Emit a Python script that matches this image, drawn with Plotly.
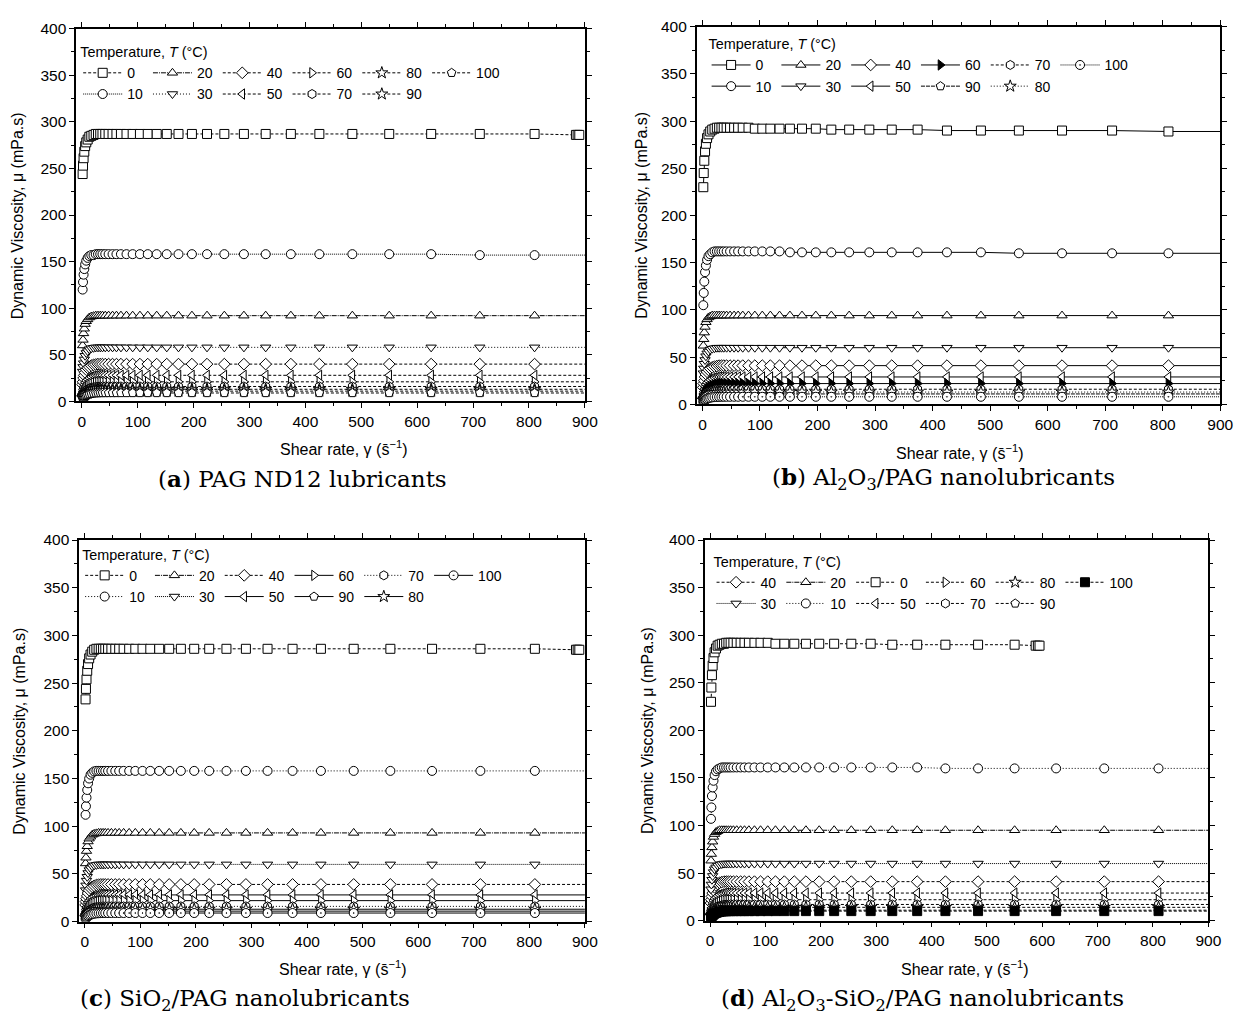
import plotly.graph_objects as go

# ---------------- data ----------------
SHEAR_RATE = [1.5, 2.2, 3.2, 4.5, 6, 8, 10.5, 13.5, 17, 21, 25, 29,
              33, 37, 42, 48, 55, 62, 70, 80, 91,
              104, 118, 134, 152, 173, 197, 224, 255, 290,
              329, 374, 425, 484, 550, 625, 712, 810, 920]
# 0 degC runs of panels (a) and (c) stop near 890 1/s
SHEAR_RATE_0C_LONG = [1.5, 2.2, 3.2, 4.5, 6, 8, 10.5, 13.5, 17, 21, 25, 29,
                      33, 37, 42, 48, 55, 62, 70, 80, 91,
                      104, 118, 134, 152, 173, 197, 224, 255, 290,
                      329, 374, 425, 484, 550, 625, 712, 810, 884, 887, 890]
# 0 degC run of panel (d) stops near 595 1/s
SHEAR_RATE_0C_SHORT = [1.5, 2.2, 3.2, 4.5, 6, 8, 10.5, 13.5, 17, 21, 25, 29,
                       33, 37, 42, 48, 55, 62, 70, 80, 91,
                       104, 118, 134, 152, 173, 197, 224, 255, 290,
                       329, 374, 425, 484, 550, 588, 592, 595]

# (a) PAG ND12
A_T0 = [244, 253, 261, 268, 274, 278, 281, 284, 285, 286, 287, 287,
        287, 287, 287, 287, 287, 287, 287, 287, 287,
        287, 287, 287, 287, 287, 287, 287, 287, 287,
        287, 287, 287, 287, 287, 287, 287, 287, 286, 286, 286]
A_T10 = [120, 128, 136, 142, 147, 151, 154, 156, 157, 157, 158, 158,
         158, 158, 158, 158, 158, 158, 158, 158, 158,
         158, 158, 158, 158, 158, 158, 158, 158, 158,
         158, 158, 158, 158, 158, 158, 157, 157, 157]
A_T20 = [60, 66, 73, 78, 83, 86, 88, 90, 91, 91.5, 92, 92,
         92, 92, 92, 92, 92, 92, 92, 92, 92,
         92, 92, 92, 92, 92, 92, 92, 92, 92,
         92, 92, 92, 92, 92, 92, 92, 92, 92]
A_T30 = [32, 37, 41, 45, 49, 52, 54, 56, 57, 57.5, 58, 58,
         58, 58, 58, 58, 58, 58, 58, 58, 58,
         58, 58, 58, 58, 58, 58, 58, 58, 58,
         58, 58, 58, 58, 58, 58, 58, 58, 58]
A_T40 = [18, 21, 25, 28, 31, 34, 36, 37, 38.4, 39.2, 39.6, 40,
         40, 40, 40, 40, 40, 40, 40, 40, 40,
         40, 40, 40, 40, 40, 40, 40, 40, 40,
         40, 40, 40, 40, 40, 40, 40, 40, 40]
A_T50 = [10.6, 12.9, 15.4, 17.9, 20.2, 22.1, 23.8, 25.2, 26.3, 27.2, 27.6, 27.9,
         28, 28, 28, 28, 28, 28, 28, 28, 28,
         28, 28, 28, 28, 28, 28, 28, 28, 28,
         28, 28, 28, 28, 28, 28, 28, 28, 28]
A_T60 = [6.7, 8.4, 10.3, 12.2, 13.9, 15.5, 17, 18.3, 19.3, 20.1, 20.5, 20.8,
         21, 21, 21, 21, 21, 21, 21, 21, 21,
         21, 21, 21, 21, 21, 21, 21, 21, 21,
         21, 21, 21, 21, 21, 21, 21, 21, 21]
A_T70 = [5.1, 6.4, 7.8, 9.3, 10.6, 11.8, 13, 13.9, 14.7, 15.3, 15.6, 15.8,
         16, 16, 16, 16, 16, 16, 16, 16, 16,
         16, 16, 16, 16, 16, 16, 16, 16, 16,
         16, 16, 16, 16, 16, 16, 16, 16, 16]
A_T80 = [4.2, 5.2, 6.4, 7.5, 8.6, 9.6, 10.5, 11.3, 12, 12.4, 12.7, 12.9,
         13, 13, 13, 13, 13, 13, 13, 13, 13,
         13, 13, 13, 13, 13, 13, 13, 13, 13,
         13, 13, 13, 13, 13, 13, 13, 13, 13]
A_T90 = [3.5, 4.4, 5.4, 6.4, 7.3, 8.1, 8.9, 9.6, 10.1, 10.5, 10.7, 10.9,
         11, 11, 11, 11, 11, 11, 11, 11, 11,
         11, 11, 11, 11, 11, 11, 11, 11, 11,
         11, 11, 11, 11, 11, 11, 11, 11, 11]
A_T100 = [2.9, 3.6, 4.4, 5.2, 5.9, 6.7, 7.3, 7.8, 8.3, 8.6, 8.8, 8.9,
          9, 9, 9, 9, 9, 9, 9, 9, 9,
          9, 9, 9, 9, 9, 9, 9, 9, 9,
          9, 9, 9, 9, 9, 9, 9, 9, 9]

# (b) Al2O3/PAG
B_T0 = [230, 245, 258, 268, 276, 282, 286, 289, 291, 292, 293, 293,
        293, 293, 293, 293, 293, 293, 293, 293, 292,
        292, 292, 292, 292, 292, 292, 291, 291, 291,
        291, 291, 290, 290, 290, 290, 290, 289, 289]
B_T10 = [105, 118, 130, 140, 147, 153, 157, 159, 161, 162, 162, 162,
         162, 162, 162, 162, 162, 162, 162, 162, 162,
         162, 162, 162, 161, 161, 161, 161, 161, 161,
         161, 161, 161, 161, 160, 160, 160, 160, 160]
B_T20 = [62, 69, 76, 82, 87, 90, 92, 93, 94, 94, 94, 94,
         94, 94, 94, 94, 94, 94, 94, 94, 94,
         94, 94, 94, 94, 94, 94, 94, 94, 94,
         94, 94, 94, 94, 94, 94, 94, 94, 94]
B_T30 = [33, 38, 43, 47, 51, 54, 56, 58, 59, 59.5, 60, 60,
         60, 60, 60, 60, 60, 60, 60, 60, 60,
         60, 60, 60, 60, 60, 60, 60, 60, 60,
         60, 60, 60, 60, 60, 60, 60, 60, 60]
B_T40 = [18, 22, 25, 29, 32, 34.5, 36.5, 38, 39.2, 40, 40.5, 41,
         41, 41, 41, 41, 41, 41, 41, 41, 41,
         41, 41, 41, 41, 41, 41, 41, 41, 41,
         41, 41, 41, 41, 41, 41, 41, 41, 41]
B_T50 = [11, 13.3, 16, 18.6, 21, 23, 24.7, 26.1, 27.3, 28.1, 28.6, 29,
         29, 29, 29, 29, 29, 29, 29, 29, 29,
         29, 29, 29, 29, 29, 29, 29, 29, 29,
         29, 29, 29, 29, 29, 29, 29, 29, 29]
B_T60 = [7, 8.8, 10.8, 12.8, 14.5, 16.3, 17.8, 19.1, 20.2, 21, 21.5, 21.8,
         22, 22, 22, 22, 22, 22, 22, 22, 22,
         22, 22, 22, 22, 22, 22, 22, 22, 22,
         22, 22, 22, 22, 22, 22, 22, 22, 22]
B_T70 = [5.1, 6.4, 7.8, 9.3, 10.6, 11.8, 13, 13.9, 14.7, 15.3, 15.6, 15.8,
         16, 16, 16, 16, 16, 16, 16, 16, 16,
         16, 16, 16, 16, 16, 16, 16, 16, 16,
         16, 16, 16, 16, 16, 16, 16, 16, 16]
B_T80 = [4.2, 5.2, 6.4, 7.5, 8.6, 9.6, 10.5, 11.3, 12, 12.4, 12.7, 12.9,
         13, 13, 13, 13, 13, 13, 13, 13, 13,
         13, 13, 13, 13, 13, 13, 13, 13, 13,
         13, 13, 13, 13, 13, 13, 13, 13, 13]
B_T90 = [3.5, 4.4, 5.4, 6.4, 7.3, 8.1, 8.9, 9.6, 10.1, 10.5, 10.7, 10.9,
         11, 11, 11, 11, 11, 11, 11, 11, 11,
         11, 11, 11, 11, 11, 11, 11, 11, 11,
         11, 11, 11, 11, 11, 11, 11, 11, 11]
B_T100 = [2.6, 3.2, 3.9, 4.6, 5.3, 5.9, 6.5, 7, 7.4, 7.7, 7.8, 7.9,
          8, 8, 8, 8, 8, 8, 8, 8, 8,
          8, 8, 8, 8, 8, 8, 8, 8, 8,
          8, 8, 8, 8, 8, 8, 8, 8, 8]

# (c) SiO2/PAG
C_T0 = [233, 244, 254, 263, 270, 276, 280, 283, 285, 286, 286, 286,
        286, 286, 286, 286, 286, 286, 286, 286, 286,
        286, 286, 286, 286, 286, 286, 286, 286, 286,
        286, 286, 286, 286, 286, 286, 286, 286, 285, 285, 285]
C_T10 = [112, 121, 130, 138, 145, 150, 154, 156, 157.5, 158, 158, 158,
         158, 158, 158, 158, 158, 158, 158, 158, 158,
         158, 158, 158, 158, 158, 158, 158, 158, 158,
         158, 158, 158, 158, 158, 158, 158, 158, 158]
C_T20 = [61, 67, 74, 79, 84, 87, 89, 91, 92, 92.5, 93, 93,
         93, 93, 93, 93, 93, 93, 93, 93, 93,
         93, 93, 93, 93, 93, 93, 93, 93, 93,
         93, 93, 93, 93, 93, 93, 93, 93, 93]
C_T30 = [33, 38, 43, 47, 51, 54, 56, 58, 59, 59.5, 60, 60,
         60, 60, 60, 60, 60, 60, 60, 60, 60,
         60, 60, 60, 60, 60, 60, 60, 60, 60,
         60, 60, 60, 60, 60, 60, 60, 60, 60]
C_T40 = [17.5, 21, 24, 27, 30, 33, 35, 36.5, 37.5, 38.4, 38.8, 39,
         39, 39, 39, 39, 39, 39, 39, 39, 39,
         39, 39, 39, 39, 39, 39, 39, 39, 39,
         39, 39, 39, 39, 39, 39, 39, 39, 39]
C_T50 = [10.6, 12.9, 15.4, 17.9, 20.2, 22.1, 23.8, 25.2, 26.3, 27.2, 27.6, 27.9,
         28, 28, 28, 28, 28, 28, 28, 28, 28,
         28, 28, 28, 28, 28, 28, 28, 28, 28,
         28, 28, 28, 28, 28, 28, 28, 28, 28]
C_T60 = [7, 8.8, 10.8, 12.8, 14.5, 16.3, 17.8, 19.1, 20.2, 21, 21.5, 21.8,
         22, 22, 22, 22, 22, 22, 22, 22, 22,
         22, 22, 22, 22, 22, 22, 22, 22, 22,
         22, 22, 22, 22, 22, 22, 22, 22, 22]
C_T70 = [5.1, 6.4, 7.8, 9.3, 10.6, 11.8, 13, 13.9, 14.7, 15.3, 15.6, 15.8,
         16, 16, 16, 16, 16, 16, 16, 16, 16,
         16, 16, 16, 16, 16, 16, 16, 16, 16,
         16, 16, 16, 16, 16, 16, 16, 16, 16]
C_T80 = [4.2, 5.2, 6.4, 7.5, 8.6, 9.6, 10.5, 11.3, 12, 12.4, 12.7, 12.9,
         13, 13, 13, 13, 13, 13, 13, 13, 13,
         13, 13, 13, 13, 13, 13, 13, 13, 13,
         13, 13, 13, 13, 13, 13, 13, 13, 13]
C_T90 = [3.5, 4.4, 5.4, 6.4, 7.3, 8.1, 8.9, 9.6, 10.1, 10.5, 10.7, 10.9,
         11, 11, 11, 11, 11, 11, 11, 11, 11,
         11, 11, 11, 11, 11, 11, 11, 11, 11,
         11, 11, 11, 11, 11, 11, 11, 11, 11]
C_T100 = [2.9, 3.6, 4.4, 5.2, 5.9, 6.7, 7.3, 7.8, 8.3, 8.6, 8.8, 8.9,
          9, 9, 9, 9, 9, 9, 9, 9, 9,
          9, 9, 9, 9, 9, 9, 9, 9, 9,
          9, 9, 9, 9, 9, 9, 9, 9, 9]

# (d) Al2O3-SiO2/PAG
D_T0 = [230, 245, 258, 268, 276, 282, 286, 289, 290, 291, 291, 292,
        292, 292, 292, 292, 292, 292, 292, 292, 292,
        292, 291, 291, 291, 291, 291, 291, 291, 291,
        290, 290, 290, 290, 290, 289, 289, 289]
D_T10 = [107, 119, 131, 140, 147, 153, 157, 159, 160, 161, 161, 161,
         161, 161, 161, 161, 161, 161, 161, 161, 161,
         161, 161, 161, 161, 161, 161, 161, 161, 161,
         161, 161, 160, 160, 160, 160, 160, 160, 160]
D_T20 = [63, 70, 77, 83, 88, 91, 93, 94, 95, 95, 95, 95,
         95, 95, 95, 95, 95, 95, 95, 95, 95,
         95, 95, 95, 95, 95, 95, 95, 95, 95,
         95, 95, 95, 95, 95, 95, 95, 95, 95]
D_T30 = [33, 38, 43, 47, 51, 54, 56, 58, 59, 59.5, 60, 60,
         60, 60, 60, 60, 60, 60, 60, 60, 60,
         60, 60, 60, 60, 60, 60, 60, 60, 60,
         60, 60, 60, 60, 60, 60, 60, 60, 60]
D_T40 = [18.5, 22, 25.5, 29, 32, 35, 37, 38.5, 39.8, 40.5, 41, 41,
         41, 41, 41, 41, 41, 41, 41, 41, 41,
         41, 41, 41, 41, 41, 41, 41, 41, 41,
         41, 41, 41, 41, 41, 41, 41, 41, 41]
D_T50 = [11, 13.3, 16, 18.6, 21, 23, 24.7, 26.1, 27.3, 28.1, 28.6, 29,
         29, 29, 29, 29, 29, 29, 29, 29, 29,
         29, 29, 29, 29, 29, 29, 29, 29, 29,
         29, 29, 29, 29, 29, 29, 29, 29, 29]
D_T60 = [7, 8.8, 10.8, 12.8, 14.5, 16.3, 17.8, 19.1, 20.2, 21, 21.5, 21.8,
         22, 22, 22, 22, 22, 22, 22, 22, 22,
         22, 22, 22, 22, 22, 22, 22, 22, 22,
         22, 22, 22, 22, 22, 22, 22, 22, 22]
D_T70 = [5.4, 6.8, 8.3, 9.8, 11.2, 12.5, 13.8, 14.8, 15.6, 16.2, 16.6, 16.8,
         17, 17, 17, 17, 17, 17, 17, 17, 17,
         17, 17, 17, 17, 17, 17, 17, 17, 17,
         17, 17, 17, 17, 17, 17, 17, 17, 17]
D_T80 = [4.5, 5.6, 6.9, 8.1, 9.2, 10.4, 11.3, 12.2, 12.9, 13.4, 13.7, 13.9,
         14, 14, 14, 14, 14, 14, 14, 14, 14,
         14, 14, 14, 14, 14, 14, 14, 14, 14,
         14, 14, 14, 14, 14, 14, 14, 14, 14]
D_T90 = [3.5, 4.4, 5.4, 6.4, 7.3, 8.1, 8.9, 9.6, 10.1, 10.5, 10.7, 10.9,
         11, 11, 11, 11, 11, 11, 11, 11, 11,
         11, 11, 11, 11, 11, 11, 11, 11, 11,
         11, 11, 11, 11, 11, 11, 11, 11, 11]
D_T100 = [3.2, 4, 4.9, 5.8, 6.6, 7.4, 8.1, 8.7, 9.2, 9.6, 9.8, 9.9,
          10, 10, 10, 10, 10, 10, 10, 10, 10,
          10, 10, 10, 10, 10, 10, 10, 10, 10,
          10, 10, 10, 10, 10, 10, 10, 10, 10]

CAPTIONS = ["(<b>a</b>) PAG ND12 lubricants",
            "(<b>b</b>) Al<sub>2</sub>O<sub>3</sub>/PAG nanolubricants",
            "(<b>c</b>) SiO<sub>2</sub>/PAG nanolubricants",
            "(<b>d</b>) Al<sub>2</sub>O<sub>3</sub>-SiO<sub>2</sub>/PAG nanolubricants"]
X_TITLE = "Shear rate, γ (s\u0304<sup>−1</sup>)"
Y_TITLE = "Dynamic Viscosity, μ (mPa.s)"
LEGEND_TITLE = "Temperature, <i>T</i> (°C)"

# ---------------- styles ----------------
W, H = 1255, 1026
SD = "3px,2px"      # short dash
DT = "1px,2px"      # dot
DD = "1px,1px"      # dense dot
DDH = "5px,1px,1px,1px"  # dash-dot
SANS = "Arial, Liberation Sans, sans-serif"

SYM = {0: "square", 10: "circle", 20: "triangle-up", 30: "triangle-down",
       40: "diamond", 50: "triangle-left", 60: "triangle-right",
       70: "hexagon", 80: "star", 90: "pentagon", 100: "circle-dot"}

panels = [
    dict(xa="x", ya="y", leg="legend",
         data={0: (SHEAR_RATE_0C_LONG, A_T0), 10: (SHEAR_RATE, A_T10), 20: (SHEAR_RATE, A_T20),
               30: (SHEAR_RATE, A_T30), 40: (SHEAR_RATE, A_T40), 50: (SHEAR_RATE, A_T50),
               60: (SHEAR_RATE, A_T60), 70: (SHEAR_RATE, A_T70), 80: (SHEAR_RATE, A_T80),
               90: (SHEAR_RATE, A_T90), 100: (SHEAR_RATE, A_T100)},
         dash={0: SD, 10: DD, 20: DDH, 30: DT, 40: SD, 50: SD, 60: SD, 70: SD, 80: SD, 90: SD, 100: SD},
         sym={90: "star", 100: "pentagon"}, fill={},
         cols=[(0, 10), (20, 30), (40, 50), (60, 70), (80, 90), (100,)],
         xdom=(77, 591), ydom=(20, 399)),
    dict(xa="x2", ya="y2", leg="legend2",
         data={0: (SHEAR_RATE, B_T0), 10: (SHEAR_RATE, B_T10), 20: (SHEAR_RATE, B_T20),
               30: (SHEAR_RATE, B_T30), 40: (SHEAR_RATE, B_T40), 50: (SHEAR_RATE, B_T50),
               60: (SHEAR_RATE, B_T60), 70: (SHEAR_RATE, B_T70), 80: (SHEAR_RATE, B_T80),
               90: (SHEAR_RATE, B_T90), 100: (SHEAR_RATE, B_T100)},
         dash={0: "solid", 10: "solid", 20: "solid", 30: "solid", 40: "solid", 50: "solid",
               60: "solid", 70: SD, 80: DT, 90: "4px,1px", 100: DD},
         sym={}, fill={60: "black"},
         cols=[(0, 10), (20, 30), (40, 50), (60, 90), (70, 80), (100,)],
         xdom=(704, 1233), ydom=(18, 402)),
    dict(xa="x3", ya="y3", leg="legend3",
         data={0: (SHEAR_RATE_0C_LONG, C_T0), 10: (SHEAR_RATE, C_T10), 20: (SHEAR_RATE, C_T20),
               30: (SHEAR_RATE, C_T30), 40: (SHEAR_RATE, C_T40), 50: (SHEAR_RATE, C_T50),
               60: (SHEAR_RATE, C_T60), 70: (SHEAR_RATE, C_T70), 80: (SHEAR_RATE, C_T80),
               90: (SHEAR_RATE, C_T90), 100: (SHEAR_RATE, C_T100)},
         dash={0: SD, 10: DT, 20: DDH, 30: DD, 40: SD, 50: "solid", 60: "solid",
               70: DT, 80: "solid", 90: "solid", 100: "solid"},
         sym={}, fill={},
         cols=[(0, 10), (20, 30), (40, 50), (60, 90), (70, 80), (100,)],
         xdom=(80, 591), ydom=(540, 928)),
    dict(xa="x4", ya="y4", leg="legend4",
         data={0: (SHEAR_RATE_0C_SHORT, D_T0), 10: (SHEAR_RATE, D_T10), 20: (SHEAR_RATE, D_T20),
               30: (SHEAR_RATE, D_T30), 40: (SHEAR_RATE, D_T40), 50: (SHEAR_RATE, D_T50),
               60: (SHEAR_RATE, D_T60), 70: (SHEAR_RATE, D_T70), 80: (SHEAR_RATE, D_T80),
               90: (SHEAR_RATE, D_T90), 100: (SHEAR_RATE, D_T100)},
         dash={0: SD, 10: DT, 20: DDH, 30: DD, 40: SD, 50: SD, 60: SD, 70: SD, 80: SD,
               90: SD, 100: SD},
         sym={100: "square"}, fill={100: "black"},
         cols=[(40, 30), (20, 10), (0, 50), (60, 70), (80, 90), (100,)],
         xdom=(712, 1221), ydom=(540, 927)),
]

fig = go.Figure()
for pi, p in enumerate(panels):
    for ci, col in enumerate(p["cols"]):
        for t in col:
            xs, ys = p["data"][t]
            fig.add_trace(go.Scatter(
                x=xs, y=ys, mode="lines+markers", name=str(t),
                xaxis=p["xa"], yaxis=p["ya"], legend=p["leg"],
                legendgroup=f"p{pi}c{ci}",
                line=dict(color="black", width=1, dash=p["dash"][t]),
                marker=dict(symbol=p["sym"].get(t, SYM[t]), size=9,
                            color=p["fill"].get(t, "white"),
                            line=dict(color="black", width=1)),
            ))

axis_common = dict(showline=True, linecolor="black", linewidth=1.5, mirror="ticks",
                   ticks="outside", ticklen=5, tickwidth=1.2, tickcolor="black",
                   showgrid=False, zeroline=False,
                   tickfont=dict(family=SANS, size=15.5, color="black"))

layout = dict(width=W, height=H, margin=dict(l=0, r=0, t=0, b=0),
              paper_bgcolor="white", plot_bgcolor="white",
              font=dict(family=SANS, color="black"),
              annotations=[], showlegend=True)

legend_pos = [(79, 30), (714, 22), (81, 541), (719, 548)]
for pi, p in enumerate(panels):
    sfx = "" if pi == 0 else str(pi + 1)
    x0, x1 = p["xdom"]
    y0, y1 = p["ydom"]
    layout["xaxis" + sfx] = dict(axis_common, domain=[x0 / W, x1 / W], range=[-10, 900],
                                 dtick=100, anchor="y" + sfx,
                                 minor=dict(dtick=50, ticks="outside", ticklen=3,
                                            tickcolor="black"))
    layout["yaxis" + sfx] = dict(axis_common, domain=[1 - y1 / H, 1 - y0 / H], range=[0, 400],
                                 dtick=50, anchor="x" + sfx,
                                 minor=dict(dtick=25, ticks="outside", ticklen=3,
                                            tickcolor="black"))
    lx, ly = legend_pos[pi]
    layout[p["leg"]] = dict(x=lx / W, y=1 - ly / H, xanchor="left", yanchor="top",
                            orientation="h", traceorder="grouped", tracegroupgap=0,
                            bgcolor="rgba(0,0,0,0)", itemsizing="trace", itemwidth=39,
                            font=dict(family=SANS, size=14, color="black"),
                            title=dict(text=LEGEND_TITLE, side="top",
                                       font=dict(family=SANS, size=14.4)))

ann = []
xt_pos = [(347, 446), (970, 450), (346, 975), (975, 975)]
yt_pos = [(18, 210), (648, 210), (20, 734), (655, 734)]
cap_pos = [(306, 477), (953, 477), (248, 1007), (932, 1007)]
for i in range(4):
    ann.append(dict(text=X_TITLE, x=xt_pos[i][0] / W, y=1 - xt_pos[i][1] / H, xref="paper",
                    yref="paper", showarrow=False, xanchor="center", yanchor="middle",
                    font=dict(family=SANS, size=16, color="black")))
    ann.append(dict(text=Y_TITLE, x=yt_pos[i][0] / W, y=1 - yt_pos[i][1] / H, xref="paper",
                    yref="paper", showarrow=False, xanchor="center", yanchor="middle",
                    textangle=-90,
                    font=dict(family=SANS, size=16, color="black")))
    ann.append(dict(text=CAPTIONS[i], x=cap_pos[i][0] / W, y=1 - cap_pos[i][1] / H, xref="paper",
                    yref="paper", showarrow=False, xanchor="center", yanchor="middle",
                    font=dict(family="DejaVu Serif, serif", size=23, color="black")))
layout["annotations"] = ann

fig.update_layout(**layout)
fig.write_html("out.html")
